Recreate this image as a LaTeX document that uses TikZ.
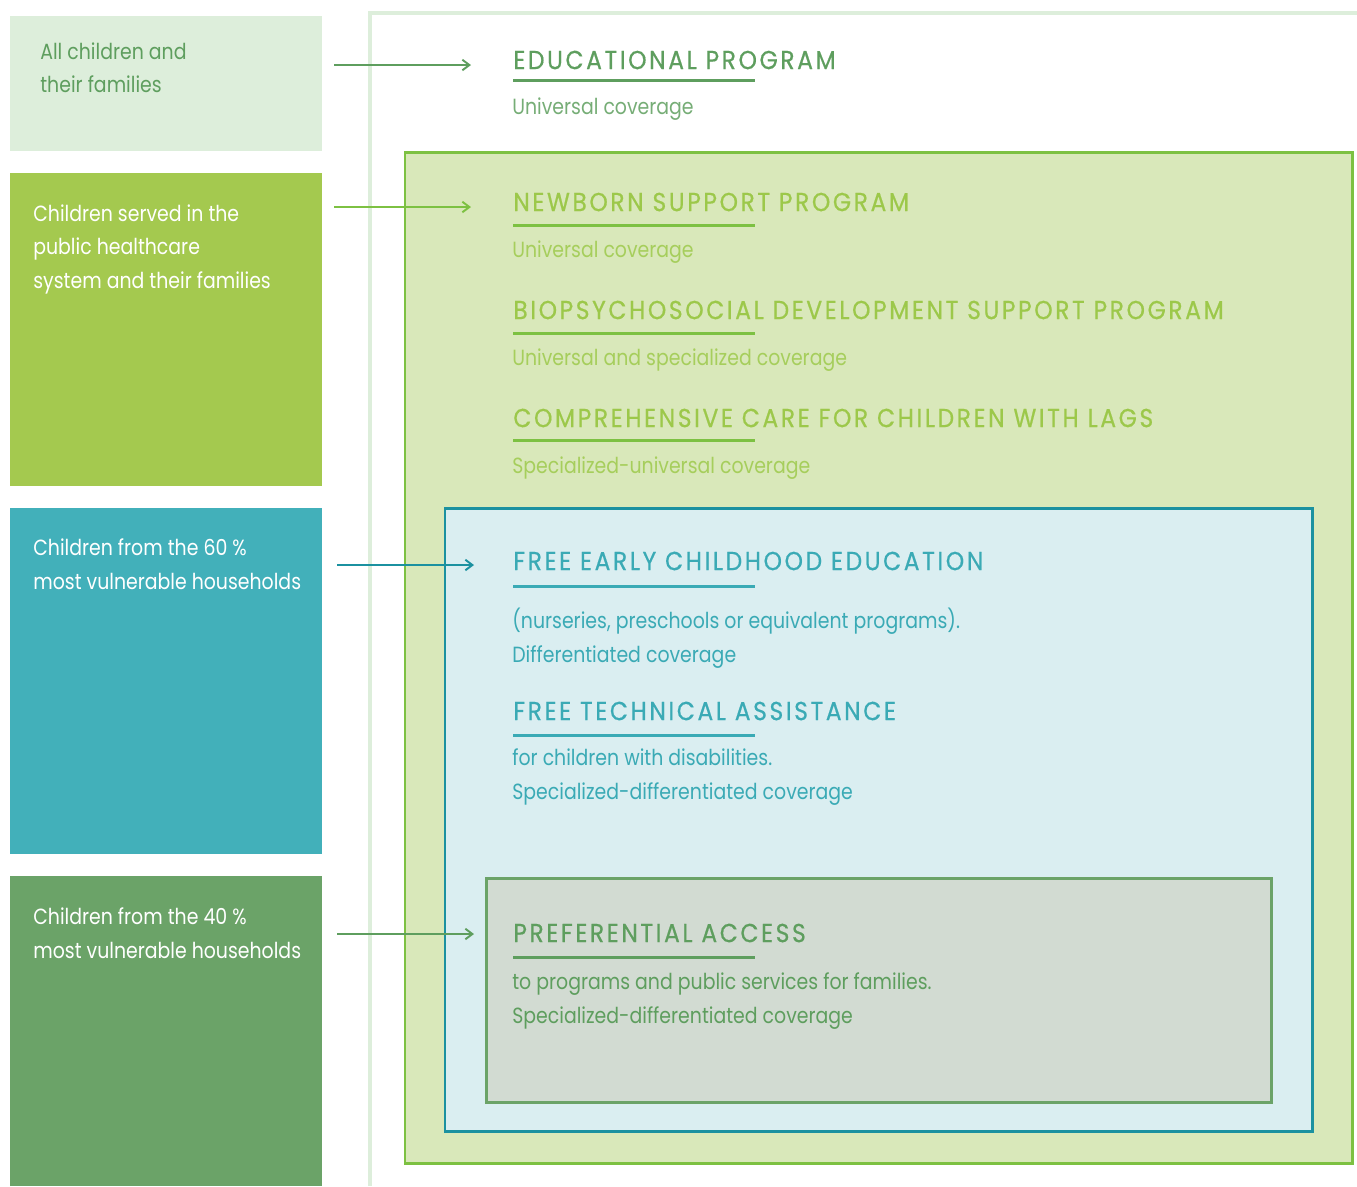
\documentclass[tikz,border=0pt]{standalone}
\usepackage{fontspec}
\setmainfont{Poppins}[FakeStretch=0.86]
\newfontfamily\capsfont{Poppins}[FakeStretch=0.9,FakeBold=0.6,LetterSpace=10]
\usepackage{tikz}
\usetikzlibrary{arrows.meta}

\definecolor{palegreen}{HTML}{DDEEDB}
\definecolor{dkgreen}{HTML}{5E9E5E}
\definecolor{limegreen}{HTML}{A4C94F}
\definecolor{limeline}{HTML}{7DC142}
\definecolor{limefill}{HTML}{D9E8BA}
\definecolor{limetext}{HTML}{9CC84A}
\definecolor{tealbox}{HTML}{42B0BA}
\definecolor{tealline}{HTML}{1B91A0}
\definecolor{tealfill}{HTML}{DAEEF1}
\definecolor{tealtext}{HTML}{3AAAB5}
\definecolor{midgreen}{HTML}{6BA368}
\definecolor{grayfill}{HTML}{D2DBD2}

\tikzset{
  ltext/.style={anchor=north west,align=left,inner sep=0pt,
    font=\fontsize{12.5}{19.3}\selectfont},
  ttl/.style={anchor=west,inner sep=0pt,font=\capsfont\fontsize{14.8}{16}\selectfont},
  sub/.style={anchor=north west,align=left,inner sep=0pt,
    font=\fontsize{12.5}{19.3}\selectfont},
  uline/.style={line width=1.7pt},
  arr/.style={line width=1.1pt,-{Straight Barb[length=4pt,width=6pt]}},
  frame/.style={line width=1.7pt}
}

\begin{document}
\begin{tikzpicture}[x=0.2mm,y=-0.2mm]
		\useasboundingbox (0,0) rectangle (1357,1186);
		% outer frame
		\draw[palegreen,line width=1.8pt] (370,1186) -- (370,13) -- (1357,13);
		% nested boxes
		\draw[frame,draw=limeline,fill=limefill] (405,152) rectangle (1352,1163);
		\draw[frame,draw=tealline,fill=tealfill] (445,508) rectangle (1312,1131);
		\draw[frame,draw=midgreen,fill=grayfill] (486,878) rectangle (1271,1102);
		% left column
		\fill[palegreen] (10,16) rectangle (322,151);
		\fill[limegreen] (10,173) rectangle (322,486);
		\fill[tealbox] (10,508) rectangle (322,854);
		\fill[midgreen] (10,876) rectangle (322,1186);
		\node[ltext,text=dkgreen] (all) at (40,42) {All children and\\their families};
		\node[ltext,text=white] (health) at (33,204) {Children served in the\\public healthcare\\system and their families};
		\node[ltext,text=white] (sixty) at (33,538) {Children from the 60 \%\\most vulnerable households};
		\node[ltext,text=white] (forty) at (33,907) {Children from the 40 \%\\most vulnerable households};

		% programs
		\node[ttl,text=dkgreen] (edu) at (513,60) {EDUCATIONAL PROGRAM};
		\draw[uline,dkgreen] (513,80) -- (755,80);
		\node[sub,text=dkgreen!85] (edusub) at (512,97) {Universal coverage};

		\node[ttl,text=limetext] (newborn) at (513,202) {NEWBORN SUPPORT PROGRAM};
		\draw[uline,limeline] (513,225) -- (755,225);
		\node[sub,text=limetext!90] (nbsub) at (512,240) {Universal coverage};

		\node[ttl,text=limetext] (bio) at (513,310) {BIOPSYCHOSOCIAL DEVELOPMENT SUPPORT PROGRAM};
		\draw[uline,limeline] (513,333) -- (755,333);
		\node[sub,text=limetext!90] (biosub) at (512,348) {Universal and specialized coverage};

		\node[ttl,text=limetext] (lags) at (513,418) {COMPREHENSIVE CARE FOR CHILDREN WITH LAGS};
		\draw[uline,limeline] (513,440) -- (755,440);
		\node[sub,text=limetext!90] (lagsub) at (512,456) {Specialized-universal coverage};

		\node[ttl,text=tealtext] (early) at (513,561) {FREE EARLY CHILDHOOD EDUCATION};
		\draw[uline,tealtext] (513,586) -- (755,586);
		\node[sub,text=tealtext] (earlysub) at (512,608) {(nurseries, preschools or equivalent programs).\\Differentiated coverage};

		\node[ttl,text=tealtext] (tech) at (513,711) {FREE TECHNICAL ASSISTANCE};
		\draw[uline,tealtext] (513,735) -- (755,735);
		\node[sub,text=tealtext] (techsub) at (512,748) {for children with disabilities.\\Specialized-differentiated coverage};

		\node[ttl,text=dkgreen] (pref) at (513,933) {PREFERENTIAL ACCESS};
		\draw[uline,dkgreen] (513,957) -- (755,957);
		\node[sub,text=dkgreen] (prefsub) at (512,972) {to programs and public services for families.\\Specialized-differentiated coverage};

		% arrows
		\coordinate (a1) at (334,65);  \coordinate (b1) at (471,65);
		\coordinate (a2) at (334,207); \coordinate (b2) at (471,207);
		\coordinate (a3) at (337,565); \coordinate (b3) at (474,565);
		\coordinate (a4) at (337,934); \coordinate (b4) at (474,934);
		\draw[arr,dkgreen] (a1) -- (b1);
		\draw[arr,limeline] (a2) -- (b2);
		\draw[arr,tealline] (a3) -- (b3);
		\draw[arr,dkgreen] (a4) -- (b4);
\end{tikzpicture}
\end{document}
